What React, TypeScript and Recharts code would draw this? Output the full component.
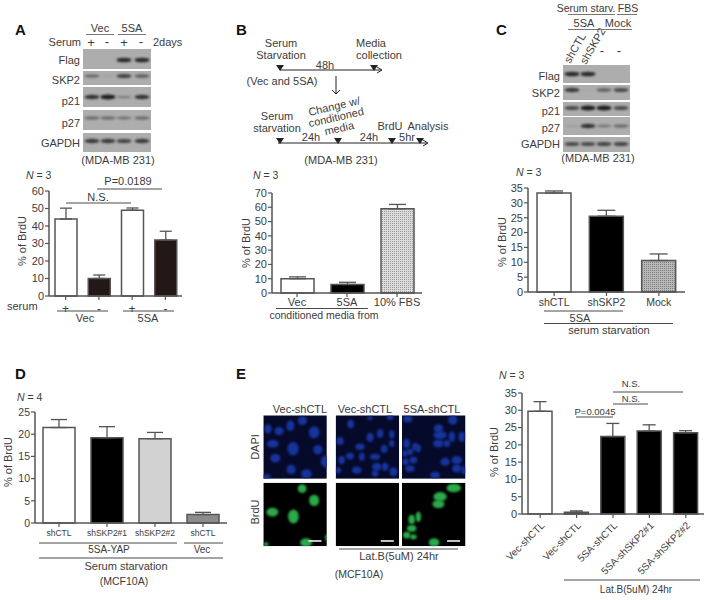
import React from "react";
import { BarChart, Bar, XAxis, YAxis, ErrorBar, Cell } from "recharts";

const FONT = "'Liberation Sans', Arial, sans-serif";
const TXT = "#3c3c3c";
const AXIS = "#555555";

// ---------- chart data ----------
const catA = ["+", "-", "+ ", "- "];
const valA = [44, 10, 49, 32];
const errA = [6.2, 2, 1.3, 5];
const fillA = ["#ffffff", "#231815", "#ffffff", "#231815"];
const ticksA = [0, 10, 20, 30, 40, 50, 60];

const catB = ["Vec", "5SA", "10% FBS"];
const valB = [10, 6, 59];
const errB = [1.3, 1.5, 3];
const fillB = ["#ffffff", "#000000", "url(#dotsLight)"];
const ticksB = [0, 10, 20, 30, 40, 50, 60, 70];

const catC = ["shCTL", "shSKP2", "Mock"];
const valC = [33.3, 25.5, 10.6];
const errC = [0.7, 2, 2.2];
const fillC = ["#ffffff", "#000000", "url(#dotsDark)"];
const ticksC = [0, 5, 10, 15, 20, 25, 30, 35];

const catD = ["shCTL", "shSKP2#1", "shSKP2#2", "shCTL "];
const valD = [21.5, 19.2, 19, 1.9];
const errD = [1.8, 2.5, 1.4, 0.5];
const fillD = ["#ffffff", "#000000", "#d2d2d2", "#8c8c8c"];
const ticksD = [0, 5, 10, 15, 20, 25];

const catE = ["Vec-shCTL", "Vec-shCTL ", "5SA-shCTL", "5SA-shSKP2#1", "5SA-shSKP2#2"];
const valE = [29.7, 0.5, 22.4, 24, 23.5];
const errE = [2.8, 0.4, 3.8, 1.8, 0.6];
const fillE = ["#ffffff", "#222222", "#000000", "#000000", "#000000"];
const ticksE = [0, 5, 10, 15, 20, 25, 30, 35];

// ---------- western blot content ----------
const rowLabelsBlot = ["Flag", "SKP2", "p21", "p27", "GAPDH"];
// [top, height, band centre y]
const rowsA = [[49, 20, 60], [71, 14, 76], [87, 20, 97], [110, 20, 118], [133, 19, 141]];
const lanesA = [92, 108, 124, 142];
const strengthA = [[0, 0, 0.85, 0.85], [0.45, 0.08, 0.7, 0.5], [0.8, 0.95, 0.3, 0.8], [0.45, 0.45, 0.4, 0.45], [0.75, 0.75, 0.7, 0.75]];
const rowsC = [[65, 18, 74], [85, 15, 90], [102, 14, 108], [117, 18, 126], [137, 15, 144]];
const lanesC = [572, 588, 604, 621];
const strengthC = [[0.85, 0.85, 0, 0], [0.75, 0.04, 0.5, 0.65], [0.65, 0.95, 0.95, 0.65], [0.12, 0.8, 0.35, 0.45], [0.65, 0.65, 0.7, 0.7]];

// ---------- microscopy (ellipses in the cells' own view box units) ----------
const dapi1 = [[114,147,11,14],[147,153,14,12],[181,137,12,16],[217,122,14,13],[252,157,16,18],[128,191,18,12],[189,206,17,20],[263,209,14,14],[136,234,15,13],[183,268,14,14],[229,281,16,14],[286,244,14,18],[110,290,12,8]];
const dapi2 = [[362,132,10,13],[330,183,11,12],[390,200,14,10],[420,172,11,14],[450,160,10,13],[485,163,8,12],[485,190,8,10],[462,207,10,12],[360,228,12,10],[335,240,10,12],[395,230,9,12],[435,230,16,9],[440,260,14,12],[465,260,10,12],[380,270,14,10],[325,270,8,9],[490,275,12,14],[435,280,10,10],[420,115,8,6],[480,112,10,8]];
const dapi3 = [[533,117,14,10],[668,120,14,14],[625,145,14,12],[630,165,20,12],[665,170,10,16],[695,170,10,16],[625,190,16,12],[650,190,10,10],[530,190,10,14],[555,200,9,12],[525,220,8,10],[540,215,10,10],[565,205,8,12],[527,245,10,10],[550,240,12,10],[540,265,14,10],[645,245,14,12],[680,240,16,12],[680,265,14,12],[615,285,14,10],[700,270,6,12]];
const brdu1 = [[216,326,13,13],[252,361,15,17],[127,396,18,13],[190,409,16,21],[228,487,18,13],[290,472,5,10],[108,492,7,6]];
const brdu2: number[][] = [];
const brdu3 = [[671,324,22,13],[630,350,20,14],[625,372,18,12],[545,418,10,14],[565,410,8,16],[545,445,14,10],[530,465,11,10],[550,470,10,8],[612,487,16,13]];

type PanelProps = {
  left: number; top: number; plotW: number; plotH: number; xH: number; yMax: number;
  ticks: number[]; cats: string[]; vals: number[]; errs: number[]; fills: string[];
  barSize: number; capW: number; fontSize: number; tickFont: number; tickMargin?: number; angled?: boolean;
};

function BarPanel(p: PanelProps) {
  const AW = 34;
  const data = p.cats.map((c, i) => ({ cat: c, value: p.vals[i], err: [0, p.errs[i]] }));
  return (
    <div style={{ position: "absolute", left: p.left - AW, top: p.top - 10 }}>
      <BarChart width={AW + p.plotW + 2} height={10 + p.plotH + p.xH} data={data}
        margin={{ top: 10, right: 2, left: 0, bottom: 0 }}>
        <XAxis dataKey="cat" interval={0} height={p.xH} tickSize={4} tickMargin={p.tickMargin ?? 2}
          stroke={AXIS} strokeWidth={1.5} tickLine={{ stroke: AXIS, strokeWidth: 1.2 }}
          angle={p.angled ? -45 : 0} textAnchor={p.angled ? "end" : "middle"}
          tick={{ fill: TXT, fontSize: p.tickFont, fontFamily: FONT }} />
        <YAxis width={AW} domain={[0, p.yMax]} ticks={p.ticks} interval={0} tickSize={4} tickMargin={1}
          stroke={AXIS} strokeWidth={1.5} tickLine={{ stroke: AXIS, strokeWidth: 1.2 }}
          tick={{ fill: TXT, fontSize: p.fontSize, fontFamily: FONT }} />
        <Bar dataKey="value" barSize={p.barSize} stroke={AXIS} strokeWidth={1.5} isAnimationActive={false}>
          {data.map((d, i) => <Cell key={i} fill={p.fills[i]} />)}
          <ErrorBar dataKey="err" direction="y" width={p.capW} stroke={AXIS} strokeWidth={1.3} isAnimationActive={false} />
        </Bar>
      </BarChart>
    </div>
  );
}

function T(props: any) {
  const { x, y, a = "middle", s = 11, w, i, r, c = TXT, children } = props;
  return (
    <text x={x} y={y} textAnchor={a} fontSize={s} fontWeight={w} fontStyle={i ? "italic" : undefined}
      fill={c} fontFamily={FONT} transform={r ? `rotate(${r} ${x} ${y})` : undefined}>{children}</text>
  );
}
const L = ({ x1, x2, y, c = "#4a4a4a", sw = 1 }: any) => <line x1={x1} x2={x2} y1={y} y2={y} stroke={c} strokeWidth={sw} />;
const NLabel = ({ x, y, n }: any) => (
  <text x={x} y={y} fontSize={10.5} fill={TXT} fontFamily={FONT}><tspan fontStyle="italic">N</tspan> = {n}</text>
);
const Tri = ({ x, y }: any) => <polygon points={`${x - 4},${y - 5} ${x + 4},${y - 5} ${x},${y + 1}`} fill="#222" />;
const BrdU = ({ x, y }: any) => <T x={x} y={y} r={-90}>% of BrdU</T>;

function Blot({ rows, lanes, strength, x, w, labelX, labelYs }: any) {
  return (
    <g>
      {rows.map((r: number[], ri: number) => (
        <g key={ri}>
          <rect x={x} y={r[0]} width={w} height={r[1]} fill="#adadad" />
          {lanes.map((lx: number, li: number) => (
            strength[ri][li] > 0 ? (
              <ellipse key={li} cx={lx} cy={r[2]} rx={7.5} ry={0.8 + strength[ri][li] * 1.8}
                fill="#161616" opacity={strength[ri][li]} filter="url(#bandBlur)" />
            ) : null
          ))}
          <T x={labelX} y={labelYs[ri]} a="end">{rowLabelsBlot[ri]}</T>
        </g>
      ))}
    </g>
  );
}

function Micro({ zx, zy, nuclei, bg, fill, bar }: any) {
  return (
    <svg x={230 + zx / 3} y={380 + zy / 3} width={63.5} height={63.5} viewBox={`${zx} ${zy} 190 190`}>
      <rect x={zx} y={zy} width={190} height={190} fill={bg} />
      {nuclei.map((n: number[], i: number) => (
        <ellipse key={i} cx={n[0]} cy={n[1]} rx={n[2]} ry={n[3]} fill={fill} filter="url(#cellBlur)" />
      ))}
      {bar ? <rect x={zx + 135} y={zy + 172} width={39} height={5} fill="#e8e8e8" /> : null}
    </svg>
  );
}

function Overlay() {
  return (
    <svg width={709} height={600} style={{ position: "absolute", left: 0, top: 0, pointerEvents: "none" }}>
      <defs>
        <pattern id="dotsLight" width={2} height={2} patternUnits="userSpaceOnUse">
          <rect width={2} height={2} fill="#dcdcdc" />
          <rect width={1} height={1} fill="#9a9a9a" />
        </pattern>
        <pattern id="dotsDark" width={2} height={2} patternUnits="userSpaceOnUse">
          <rect width={2} height={2} fill="#b8b8b8" />
          <rect width={1} height={1} fill="#7d7d7d" />
        </pattern>
        <filter id="bandBlur" x="-30%" y="-80%" width="160%" height="260%"><feGaussianBlur stdDeviation={0.9} /></filter>
        <filter id="cellBlur" x="-30%" y="-30%" width="160%" height="160%" colorInterpolationFilters="sRGB"><feGaussianBlur stdDeviation={3} /></filter>
      </defs>

      {/* Panel letters */}
      <T x={15} y={35} s={15} w="bold" a="start" c="#111">A</T>
      <T x={236} y={35} s={15} w="bold" a="start" c="#111">B</T>
      <T x={496} y={35} s={15} w="bold" a="start" c="#111">C</T>
      <T x={15} y={379} s={15} w="bold" a="start" c="#111">D</T>
      <T x={236} y={379} s={15} w="bold" a="start" c="#111">E</T>

      {/* A blot */}
      <T x={100} y={32}>Vec</T><T x={132} y={32}>5SA</T>
      <L x1={86} x2={114} y={34.5} c="#777" /><L x1={118} x2={146} y={34.5} c="#777" />
      <T x={81} y={46} a="end">Serum</T>
      <T x={91} y={46.5} s={13}>+</T><T x={107} y={46} s={13}>-</T><T x={124} y={46.5} s={13}>+</T><T x={141} y={46} s={13}>-</T>
      <T x={153} y={46} a="start">2days</T>
      <Blot rows={rowsA} lanes={lanesA} strength={strengthA} x={83} w={68} labelX={80} labelYs={[64, 84, 105, 127, 147]} />
      <T x={118} y={164}>(MDA-MB 231)</T>

      {/* A chart */}
      <NLabel x={26} y={179} n={3} />
      <BrdU x={26} y={241} />
      <T x={128} y={185}>P=0.0189</T><L x1={97} x2={162} y={189} />
      <T x={98} y={201}>N.S.</T><L x1={66} x2={131} y={203} />
      <T x={7} y={310} a="start">serum</T>
      <L x1={57} x2={108} y={311} /><L x1={123} x2={174} y={311} />
      <T x={85} y={322}>Vec</T><T x={148} y={322}>5SA</T>

      {/* B timeline */}
      <T x={281} y={47}>Serum</T><T x={281} y={59}>Starvation</T>
      <T x={371} y={47}>Media</T><T x={379} y={59}>collection</T>
      <L x1={280} x2={381} y={70} c="#222" /><polyline points="377,67 382,70 377,73" fill="none" stroke="#222" />
      <Tri x={280} y={70} /><Tri x={374} y={70} />
      <T x={325} y={69}>48h</T>
      <T x={282} y={85}>(Vec and 5SA)</T>
      <line x1={336} x2={336} y1={76} y2={94} stroke="#222" /><polyline points="332,90 336,94 340,90" fill="none" stroke="#222" />
      <T x={335} y={110} r={-13}>Change w/</T>
      <T x={337} y={121} r={-13}>conditioned</T>
      <T x={340} y={132} r={-13}>media</T>
      <T x={277} y={120}>Serum</T><T x={277} y={132}>starvation</T>
      <L x1={278} x2={427} y={143} c="#222" /><polyline points="423,140 428,143 423,146" fill="none" stroke="#222" />
      <Tri x={280} y={143} /><Tri x={338} y={143} /><Tri x={392} y={143} /><Tri x={420} y={143} />
      <T x={311} y={141}>24h</T><T x={369} y={141}>24h</T>
      <T x={390} y={130}>BrdU</T><T x={407} y={141}>5hr</T><T x={428} y={130}>Analysis</T>
      <T x={341} y={164}>(MDA-MB 231)</T>

      {/* B chart */}
      <NLabel x={253} y={179} n={3} />
      <BrdU x={250} y={243} />
      <L x1={276} x2={368} y={308.5} />
      <T x={324} y={319} s={10.5}>conditioned media from</T>

      {/* C blot */}
      <T x={586} y={12} s={10.5}>Serum starv.</T><T x={628} y={12} s={10.5}>FBS</T>
      <L x1={568} x2={615} y={14.5} c="#777" /><L x1={617} x2={637} y={14.5} c="#777" />
      <T x={584} y={27}>5SA</T><T x={618} y={27}>Mock</T>
      <L x1={568} x2={600} y={29.5} c="#777" /><L x1={602} x2={632} y={29.5} c="#777" />
      <T x={570} y={64} a="start" r={-60}>shCTL</T>
      <T x={586} y={65} a="start" r={-60}>shSKP2</T>
      <T x={602} y={55} s={13}>-</T><T x={619} y={55} s={13}>-</T>
      <Blot rows={rowsC} lanes={lanesC} strength={strengthC} x={563} w={67} labelX={560} labelYs={[80, 97, 115, 132, 148]} />
      <T x={598} y={162}>(MDA-MB 231)</T>

      {/* C chart */}
      <NLabel x={516} y={176} n={3} />
      <BrdU x={506} y={242} />
      <L x1={544} x2={623} y={311} />
      <T x={580} y={322}>5SA</T>
      <L x1={544} x2={673} y={323.5} />
      <T x={609} y={334}>serum starvation</T>

      {/* D chart */}
      <NLabel x={17} y={401} n={4} />
      <BrdU x={12} y={462} />
      <L x1={39} x2={177} y={543} /><L x1={184} x2={223} y={543} />
      <T x={109} y={553} s={10}>5SA-YAP</T><T x={202} y={553} s={10}>Vec</T>
      <L x1={39} x2={223} y={558} />
      <T x={126} y={570}>Serum starvation</T>
      <T x={124} y={585} s={10.5}>(MCF10A)</T>

      {/* E microscopy */}
      <T x={300} y={413}>Vec-shCTL</T><T x={365} y={413}>Vec-shCTL</T><T x={432} y={413}>5SA-shCTL</T>
      <T x={259} y={447} r={-90}>DAPI</T><T x={259} y={512} r={-90}>BrdU</T>
      <Micro zx={100} zy={106} nuclei={dapi1} bg="#060a2a" fill="#17339c" />
      <Micro zx={317} zy={106} nuclei={dapi2} bg="#060a2a" fill="#17339c" />
      <Micro zx={516} zy={106} nuclei={dapi3} bg="#060a2a" fill="#17339c" />
      <Micro zx={100} zy={308} nuclei={brdu1} bg="#000000" fill="#2aaa48" bar />
      <Micro zx={317} zy={308} nuclei={brdu2} bg="#000000" fill="#2aaa48" bar />
      <Micro zx={516} zy={308} nuclei={brdu3} bg="#000000" fill="#2aaa48" bar />
      <L x1={339} x2={458} y={549} />
      <T x={399} y={560}>Lat.B(5uM) 24hr</T>
      <T x={359} y={578} s={10.5}>(MCF10A)</T>

      {/* E chart */}
      <NLabel x={499} y={379} n={3} />
      <BrdU x={498} y={452} />
      <T x={631} y={387} s={9.5}>N.S.</T><L x1={613} x2={683} y={392} />
      <T x={631} y={402} s={9.5}>N.S.</T><L x1={613} x2={648} y={404} />
      <T x={595} y={415} s={9.5}>P=0.0045</T><L x1={576} x2={613} y={417} />
      <L x1={564} x2={700} y={580} />
      <T x={636} y={593} s={10}>Lat.B(5uM) 24hr</T>
    </svg>
  );
}

export default function App() {
  return (
    <div style={{ position: "absolute", left: 0, top: 0, width: 709, height: 600, background: "#fff", overflow: "hidden", fontFamily: FONT }}>
      <BarPanel left={49} top={191} plotW={133} plotH={105} xH={20} yMax={60} ticks={ticksA} cats={catA} vals={valA} errs={errA} fills={fillA} barSize={22} capW={6} fontSize={11} tickFont={12} tickMargin={4} />
      <BarPanel left={272} top={193} plotW={150} plotH={100} xH={20} yMax={70} ticks={ticksB} cats={catB} vals={valB} errs={errB} fills={fillB} barSize={33} capW={8.5} fontSize={11} tickFont={11} tickMargin={1} />
      <BarPanel left={528} top={188} plotW={157} plotH={104} xH={20} yMax={35} ticks={ticksC} cats={catC} vals={valC} errs={errC} fills={fillC} barSize={34} capW={9} fontSize={11} tickFont={10.5} tickMargin={3} />
      <BarPanel left={35} top={412} plotW={192} plotH={111} xH={20} yMax={25} ticks={ticksD} cats={catD} vals={valD} errs={errD} fills={fillD} barSize={32} capW={8} fontSize={10.5} tickFont={8.5} tickMargin={3} />
      <BarPanel left={522} top={393} plotW={182} plotH={121} xH={70} yMax={35} ticks={ticksE} cats={catE} vals={valE} errs={errE} fills={fillE} barSize={24} capW={6.5} fontSize={11} tickFont={10} angled tickMargin={3} />
      <Overlay />
    </div>
  );
}
